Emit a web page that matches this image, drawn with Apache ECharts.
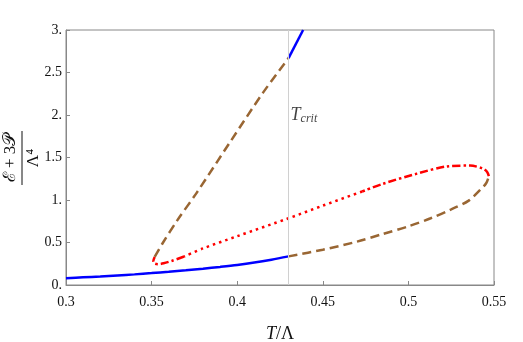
<!DOCTYPE html>
<html><head><meta charset="utf-8">
<script src="https://cdn.jsdelivr.net/npm/echarts@6/dist/echarts.min.js"></script>
<style>html,body{margin:0;padding:0;background:#fff}#c{width:523px;height:342px}</style>
</head><body><div id="c"></div>
<script>
// Data (T/Λ, (E+3P)/Λ^4)
var blueLowT = [0.30, 0.31, 0.32, 0.33, 0.34, 0.35, 0.36, 0.37, 0.38, 0.39, 0.40, 0.41, 0.42, 0.43];
var blueLowE = [0.08, 0.09, 0.10, 0.112, 0.125, 0.14, 0.156, 0.173, 0.192, 0.213, 0.236, 0.264, 0.298, 0.337];
var brownLowT = [0.43, 0.45, 0.47, 0.485, 0.50, 0.513, 0.525, 0.535, 0.542, 0.5455, 0.547];
var brownLowE = [0.337, 0.415, 0.51, 0.60, 0.69, 0.785, 0.89, 0.99, 1.12, 1.20, 1.28];
var redUpT = [0.547, 0.546, 0.5435, 0.536, 0.5225, 0.505, 0.485, 0.473];
var redUpE = [1.28, 1.33, 1.37, 1.405, 1.395, 1.31, 1.19, 1.10];
var redDotT = [0.473, 0.45, 0.43, 0.40, 0.38, 0.369];
var redDotE = [1.10, 0.934, 0.785, 0.574, 0.43, 0.335];
var redLowT = [0.369, 0.362, 0.357, 0.354, 0.3515, 0.351, 0.3518];
var redLowE = [0.335, 0.285, 0.255, 0.245, 0.255, 0.28, 0.33];
var brownUpT = [0.3518, 0.3567, 0.365, 0.3765, 0.3958, 0.415, 0.43];
var brownUpE = [0.33, 0.50, 0.76, 1.09, 1.68, 2.26, 2.67];
var blueUpT = [0.43, 0.4385];
var blueUpE = [2.67, 3.0];
var tCrit = 0.43;
var tCritLabelE = 2.0;
var xTicks = [0.3, 0.35, 0.4, 0.45, 0.5, 0.55];
var yTicks = [0, 0.5, 1, 1.5, 2, 2.5, 3];

function pts(t, e) { return t.map(function (v, i) { return [v, e[i]]; }); }
var FONT = 'Liberation Serif';
var BLUE = '#0000ff', RED = '#ff0000', BROWN = '#996633';
function line(t, e, color, type, smooth) {
  return { type: 'line', data: pts(t, e), symbol: 'none', smooth: smooth, silent: true,
    lineStyle: { color: color, width: 2.5, type: type, cap: 'butt' }, z: 3 };
}
var chart = echarts.init(document.getElementById('c'), null, { renderer: 'canvas' });
chart.setOption({
  animation: false,
  grid: { left: 66, right: 29, top: 30, bottom: 57, outerBoundsMode: 'none', containLabel: false,
    show: true, borderColor: '#888', borderWidth: 1 },
  xAxis: {
    type: 'value', min: xTicks[0], max: xTicks[xTicks.length - 1], interval: 0.05,
    name: '{i|T}{n|/Λ}', nameLocation: 'middle', nameGap: 40,
    nameTextStyle: { rich: { i: { fontFamily: FONT, fontStyle: 'italic', fontSize: 18, color: '#111' }, n: { fontFamily: FONT, fontSize: 18, color: '#111' } } },
    axisLine: { show: true, lineStyle: { color: '#888' } },
    axisTick: { show: true, inside: true, length: 4, lineStyle: { color: '#888' } },
    axisLabel: { fontFamily: FONT, fontSize: 14, color: '#111', margin: 10,
      formatter: function (v) { return String(+v.toFixed(2)); } },
    splitLine: { show: false }
  },
  yAxis: {
    type: 'value', min: yTicks[0], max: yTicks[yTicks.length - 1], interval: 0.5,
    axisLine: { show: true, lineStyle: { color: '#888' } },
    axisTick: { show: true, inside: true, length: 4, lineStyle: { color: '#888' } },
    axisLabel: { fontFamily: FONT, fontSize: 14, color: '#111', margin: 4,
      formatter: function (v) { return (v % 1 === 0) ? (v + '.') : String(v); } },
    splitLine: { show: false }
  },
  graphic: [{
    type: 'group', x: 22, y: 158, rotation: Math.PI / 2,
    children: [
      { type: 'text', x: 0, y: -3, style: { text: 'ℰ + 3𝒫', font: '17px ' + FONT + ', DejaVu Serif, serif', fill: '#111', align: 'center', verticalAlign: 'bottom' } },
      { type: 'line', shape: { x1: -27, y1: 0, x2: 27, y2: 0 }, style: { stroke: '#111', lineWidth: 1 } },
      { type: 'text', x: 0, y: 3, style: { text: 'Λ⁴', font: '17px ' + FONT, fill: '#111', align: 'center', verticalAlign: 'top' } }
    ]
  }],
  series: [
    line(blueLowT, blueLowE, BLUE, 'solid', 0.3),
    line(brownLowT, brownLowE, BROWN, [9, 5], 0.3),
    line(redUpT, redUpE, RED, [8, 3, 2.5, 3], 0.3),
    line(redDotT, redDotE, RED, [2.5, 4], 0.3),
    line(redLowT, redLowE, RED, [8, 3, 2.5, 3], 0.3),
    line(brownUpT, brownUpE, BROWN, [9, 5], 0.3),
    line(blueUpT, blueUpE, BLUE, 'solid', false),
    {
      type: 'scatter', data: [[tCrit, tCritLabelE]], symbolSize: 0, silent: true,
      label: { show: true, position: 'right', distance: 2,
        formatter: '{t|T}{s|crit}',
        rich: { t: { fontFamily: FONT, fontStyle: 'italic', fontSize: 18, color: '#111' },
                s: { fontFamily: FONT, fontStyle: 'italic', fontSize: 12, color: '#111', verticalAlign: 'bottom', padding: [8, 0, 0, 0] } } },
      markLine: { silent: true, symbol: 'none', label: { show: false },
        lineStyle: { color: '#d0d0d0', width: 1, type: 'solid' },
        data: [{ xAxis: tCrit }] },
      z: 1
    }
  ]
});
</script></body></html>
